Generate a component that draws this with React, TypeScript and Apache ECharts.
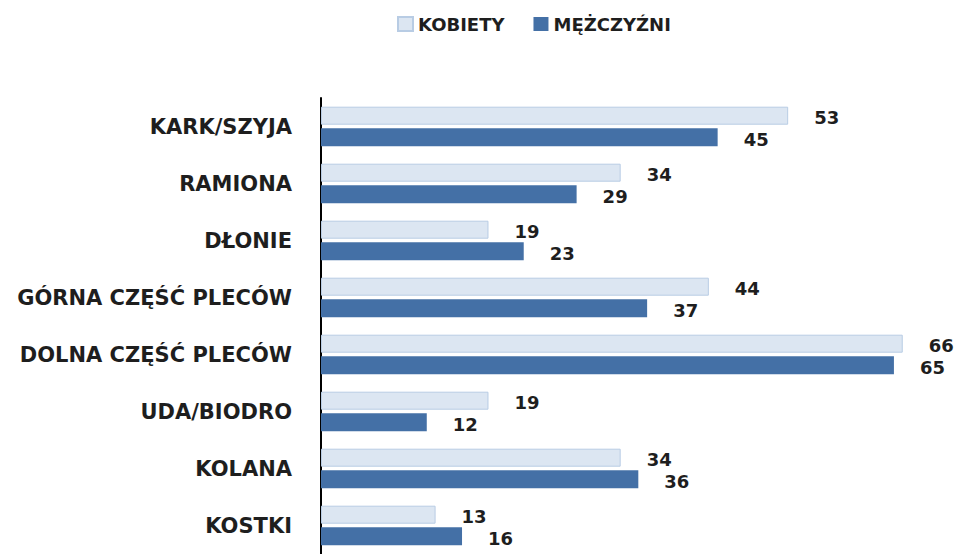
import React, { useEffect, useRef } from "react";
import * as echarts from "echarts";

const categories = [
  "KARK/SZYJA",
  "RAMIONA",
  "DŁONIE",
  "GÓRNA CZĘŚĆ PLECÓW",
  "DOLNA CZĘŚĆ PLECÓW",
  "UDA/BIODRO",
  "KOLANA",
  "KOSTKI",
];
const kobiety = [53, 34, 19, 44, 66, 19, 34, 13];
const mezczyzni = [45, 29, 23, 37, 65, 12, 36, 16];
const seriesNames = ["KOBIETY", "MĘŻCZYŹNI"];

const FONT = "'DejaVu Sans', sans-serif";

export default function App() {
  const ref = useRef<HTMLDivElement>(null);
  useEffect(() => {
    if (!ref.current) return;
    const chart = echarts.init(ref.current, undefined, { renderer: "svg" });
    const labelStyle = {
      show: true,
      position: "right" as const,
      distance: 26,
      fontSize: 18,
      fontWeight: "bold" as const,
      lineHeight: 15,
      fontFamily: FONT,
      color: "#1e1e1e",
      offset: [0, 2],
    };
    chart.setOption({
      animation: false,
      backgroundColor: "#ffffff",
      legend: {
        top: 15,
        left: 397,
        padding: 0,
        itemWidth: 15,
        itemHeight: 14,
        itemGap: 29,
        icon: "rect",
        textStyle: {
          fontSize: 18,
          fontWeight: "bold",
          lineHeight: 18,
          fontFamily: FONT,
          color: "#1e1e1e",
          padding: [0, 0, 0, 0],
        },
        data: seriesNames,
      },
      grid: { left: 321, right: 18, top: 98, bottom: -3, containLabel: false },
      xAxis: {
        type: "value",
        min: 0,
        max: 70,
        show: false,
      },
      yAxis: {
        type: "category",
        inverse: true,
        data: categories,
        axisLine: { show: true, lineStyle: { color: "#000000", width: 2 } },
        axisTick: { show: false },
        axisLabel: {
          fontSize: 21,
          fontWeight: "bold",
          fontFamily: FONT,
          color: "#1e1e1e",
          margin: 29,
        },
      },
      series: [
        {
          name: seriesNames[0],
          type: "bar",
          data: kobiety,
          barWidth: 18,
          barGap: "20%",
          itemStyle: { color: "#dce6f2", borderColor: "#b8cce4", borderWidth: 1 },
          label: labelStyle,
        },
        {
          name: seriesNames[1],
          type: "bar",
          data: mezczyzni,
          barWidth: 18,
          itemStyle: { color: "#4470a6" },
          label: labelStyle,
        },
      ],
    });
    return () => chart.dispose();
  }, []);
  return (
    <div
      ref={ref}
      style={{ position: "fixed", left: 0, top: 0, width: 956, height: 554 }}
    />
  );
}
